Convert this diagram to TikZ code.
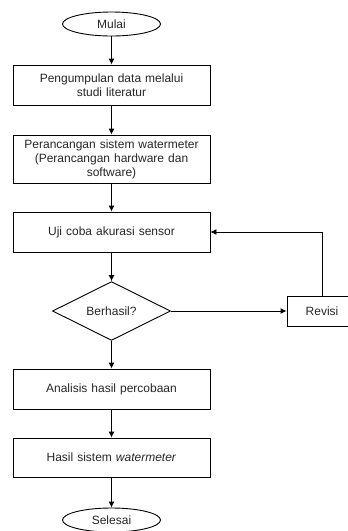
\documentclass[tikz,border=0pt]{standalone}
\usepackage{fontspec}
\setmainfont{Liberation Sans}
\usetikzlibrary{shapes.geometric,arrows.meta}

\tikzset{
  proses/.style={draw, rectangle, minimum width=197pt, minimum height=40pt,
    text width=190pt, align=center, inner sep=0pt},
  terminal/.style={draw, ellipse, minimum width=98pt, minimum height=24pt, inner sep=0pt},
  keputusan/.style={draw, diamond, minimum width=118pt, minimum height=58pt, inner sep=0pt},
}

\begin{document}
\begin{tikzpicture}[x=1pt, y=-1pt, >={Latex[length=6pt,width=6pt]},
  line width=0.9pt, font=\fontsize{12}{14}\selectfont, text=black!85]
\useasboundingbox (0,0) rectangle (348,531);

\node[terminal] (mulai) at (111.5,24) {Mulai};
\node[proses] (studi) at (111.5,85) {Pengumpulan data melalui\\studi literatur};
\node[proses, minimum height=48pt] (rancang) at (111.5,159)
  {Perancangan sistem watermeter\\(Perancangan hardware dan\\software)};
\node[proses] (uji) at (111.5,232) {Uji coba akurasi sensor};
\node[keputusan] (cek) at (111.5,311) {Berhasil?};
\node[draw, rectangle, minimum width=70pt, minimum height=30pt] (revisi) at (322,311) {Revisi};
\node[proses] (analisis) at (111.5,389) {Analisis hasil percobaan};
\node[proses, minimum height=39pt] (hasil) at (111.5,457.5) {Hasil sistem \textit{watermeter}};
\node[terminal] (selesai) at (111.5,520) {Selesai};

\draw[->] (mulai) -- (studi);
\draw[->] (studi) -- (rancang);
\draw[->] (rancang) -- (uji);
\draw[->] (uji) -- (cek);
\draw[->] (cek) -- (revisi);
\draw[->] (revisi.north) |- (uji.east);
\draw[->] (cek) -- (analisis);
\draw[->] (analisis) -- (hasil);
\draw[->] (hasil) -- (selesai);

\end{tikzpicture}
\end{document}
